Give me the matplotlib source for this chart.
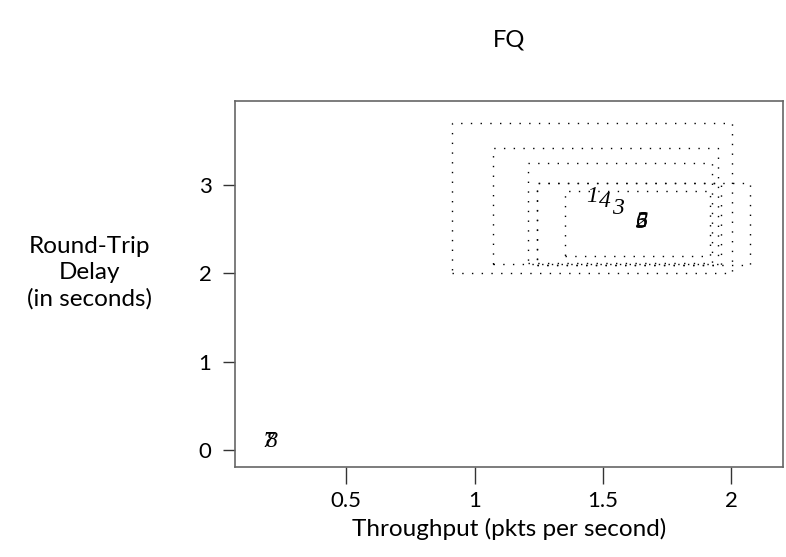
import matplotlib
matplotlib.use("Agg")
import matplotlib.pyplot as plt
from matplotlib.patches import Rectangle

# flow ids and their mean throughput / delay
flow_ids = ["1", "2", "3", "4", "5", "6", "7", "8"]
throughput = [1.456, 1.650, 1.560, 1.508, 1.652, 1.648, 0.200, 0.208]
delay = [2.868, 2.585, 2.736, 2.811, 2.580, 2.590, 0.100, 0.100]

# spread boxes (x_lo, x_hi, y_lo, y_hi) for the busy flows
box_x_lo = [0.912, 1.072, 1.208, 1.243, 1.352, 1.243]
box_x_hi = [2.002, 1.947, 1.924, 2.072, 1.916, 1.959]
box_y_lo = [2.004, 2.106, 2.117, 2.094, 2.196, 2.094]
box_y_hi = [3.702, 3.419, 3.249, 3.023, 2.932, 3.023]

x_ticks = [0.5, 1, 1.5, 2]
x_tick_labels = ["0.5", "1", "1.5", "2"]
y_ticks = [0, 1, 2, 3]

plt.rcParams["font.family"] = ["Lato", "DejaVu Sans"]

fig = plt.figure(figsize=(7.86, 5.57), dpi=100)
ax = fig.add_axes([0.299, 0.1616, 0.697, 0.6571])

for x0, x1, y0, y1 in zip(box_x_lo, box_x_hi, box_y_lo, box_y_hi):
    ax.add_patch(Rectangle((x0, y0), x1 - x0, y1 - y0, fill=False,
                           edgecolor="black", linewidth=1.0,
                           linestyle=(0, (1, 6))))

for fid, xx, yy in zip(flow_ids, throughput, delay):
    ax.text(xx, yy, fid, ha="center", va="center", fontsize=17,
            family="Liberation Serif", style="italic")

ax.set_xlim(0.068, 2.200)
ax.set_ylim(-0.192, 3.951)
ax.set_xticks(x_ticks)
ax.set_xticklabels(x_tick_labels)
ax.set_yticks(y_ticks)
ax.tick_params(axis="x", length=12, width=1, color="#333333",
               labelsize=16, pad=5)
ax.tick_params(axis="y", length=9, width=1, color="#333333",
               labelsize=16, pad=8)
for sp in ax.spines.values():
    sp.set_color("#666666")
    sp.set_linewidth(1.2)

ax.set_xlabel("Throughput (pkts per second)", fontsize=17.5, labelpad=5)
ax.set_ylabel("Round-Trip\nDelay\n(in seconds)", fontsize=17.5, rotation=0,
              ha="center", va="center", linespacing=1.3)
ax.yaxis.set_label_coords(-0.265, 0.53)
ax.set_title("FQ", fontsize=17, pad=39)

fig.savefig("out.png", dpi=100)
